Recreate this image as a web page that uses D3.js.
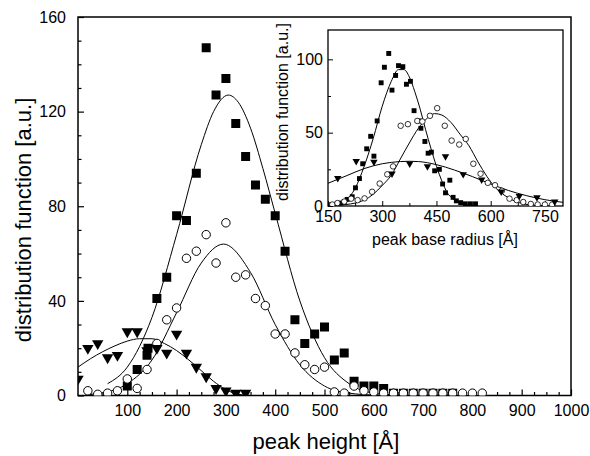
<!DOCTYPE html>
<html>
<head>
<meta charset="utf-8">
<script src="https://cdn.jsdelivr.net/npm/d3@7"></script>
<style>
  html, body { margin: 0; padding: 0; background: #fff; }
  svg { display: block; font-family: "Liberation Sans", Arial, Helvetica, sans-serif; }
</style>
</head>
<body>
<svg id="chart" width="590" height="456"></svg>
<script>
// ---- Main panel: distribution of peak heights ----
const heightSq = [100,120,140,142,160,180,200,220,240,260,280,300,320,340,360,380,400,420,440,460,480,500,520,540,560,580,600,620,640,660,680,700,720,740,760];
const distSq   = [4,11,17,20,41,50,76,74,94,147,127,134,115,101,89,83,76,61,32,22,26,29,15,18,6,4,4,3,1,1,1,1,1,1,1];

const heightCi = [20,40,60,80,100,120,140,160,180,200,220,240,260,280,300,320,340,360,380,400,420,440,460,480,500,520,540,560,580,600,620,640,660,680,700,720,740,760,780,800,820];
const distCi   = [2,0.5,1,2,7,3,11,22,32,37,58,61,68,56,73,50,51,41,38,26,26,18,13,11,12,1.5,1,4,2,1.5,1,1,1,1,1,1,1,1,1,1,1];

const heightTr = [0,20,40,60,80,100,120,140,160,180,200,220,240,260,280,300,320,340];
const distTr   = [7,20,22,16,17,27,27,19,20,18,26,18,12,8,3,2,1,1];

// fitted curves
const fitSqX = [60,100,150,200,250,275,305,325,350,375,400,450,500,550,600,650];
const fitSqY = [5,12,33,68,106,120,127,124,113,96,77,40,16,5,1,0.2];
const fitCiX = [20,50,100,150,200,250,295,350,400,450,500,550,600,650,700];
const fitCiY = [0.4,1.1,5,15,35,56,64,52,30,13,4,1,0.2,0,0];
const fitTrX = [0,25,50,75,100,125,150,175,200,225,250,275,300,325,350];
const fitTrY = [12,15.5,18.5,21,23,24,24,22,19,15,10.5,6,2.5,0.5,0];

const mainXTicks = [100,200,300,400,500,600,700,800,900,1000];
const mainYTicks = [0,40,80,120,160];

// ---- Inset: distribution of peak base radii ----
const radiusSq = [157,163,174,185,195,203,217,226,237,246,257,268,277,286,297,306,318,327,337,345,357,367,378,388,402,407,418,427,436,445,458,467,475,487,496,505,517,530,544,558];
const idistSq  = [0.8,1,1,2,3,4.5,6.3,12.4,18.7,28.8,39,47.5,34,58,84,94.6,104,79,89,95.7,95,83,85,65,58,53,44,36,36.7,24,25,15,9,17.6,5.9,3.5,2.3,1.5,1.5,1.5];

const radiusCi = [162,176,195,214,232,251,272,293,314,330,351,371,397,411,432,452,473,492,513,531,552,572,592,612,631,652,672,690,711,730,750,770];
const idistCi  = [1,2,3,5,4,5.2,9.7,15.3,21.6,27,54.7,55.8,58,57.6,61.5,66.7,54.7,44.6,41.9,45.7,28.8,22,15.8,14.2,10.4,5,4,2.7,1.4,1,1,1];

const radiusTr = [177,228,277,327,376,425,475,524,575,629,679,728,777];
const idistTr  = [19,30.6,30,22,28.8,27,33.8,21.6,18,9.7,6.8,5.9,2.9];

const ifitSqX = [150,175,200,225,250,275,300,325,345,360,375,390,405,420,435,450,465,480,495,510,530,560];
const ifitSqY = [0,1,4,12,27,46,68,85,93,93,88,78,66,52,39,27,17,9,5,2.5,1,0];
const ifitCiX = [175,200,225,250,275,300,325,350,375,400,425,445,465,490,515,540,565,590,615,640,665,690,720,780];
const ifitCiY = [0.5,1,2,4,8,14,21,32,43,53,60,63,62,57,49,41,30,20,12,7,3.5,1.5,0.5,0];
const ifitTrX = [150,200,250,300,350,375,400,450,500,550,600,650,700,750,800];
const ifitTrY = [15.5,20.5,25.5,28.8,30.3,30.5,30.3,28.2,24.5,20,15,10.5,7,4.3,2.5];

const insetXTicks = [150,300,450,600,750];
const insetYTicks = [0,50,100];

const zip = (xs, ys) => xs.map((x, i) => [x, ys[i]]);

const svg = d3.select("#chart");

function drawPanel(g, opt) {
  const { x, y, left, right, top, bottom } = opt;
  const clipId = opt.id + "-clip";
  g.append("clipPath").attr("id", clipId)
    .append("rect").attr("x", left).attr("y", top)
    .attr("width", right - left).attr("height", bottom - top);

  if (opt.fill) {
    g.append("rect").attr("x", left).attr("y", top)
      .attr("width", right - left).attr("height", bottom - top)
      .attr("fill", "#fff");
  }

  // minor ticks
  g.append("g").attr("transform", `translate(0,${bottom})`)
    .call(d3.axisBottom(x).tickValues(opt.xMinor).tickSize(-opt.minorLen).tickFormat(""))
    .call(a => a.select(".domain").remove());
  g.append("g").attr("transform", `translate(${left},0)`)
    .call(d3.axisLeft(y).tickValues(opt.yMinor).tickSize(-opt.minorLen).tickFormat(""))
    .call(a => a.select(".domain").remove());

  // major ticks with labels
  const xa = g.append("g").attr("transform", `translate(0,${bottom})`)
    .call(d3.axisBottom(x).tickValues(opt.xTicks).tickSize(-opt.majorLen).tickPadding(opt.xPad).tickFormat(d3.format("d")));
  xa.select(".domain").remove();
  xa.selectAll("text").attr("font-size", opt.tickFont).attr("fill", "#000");
  const ya = g.append("g").attr("transform", `translate(${left},0)`)
    .call(d3.axisLeft(y).tickValues(opt.yTicks).tickSize(-opt.majorLen).tickPadding(opt.yPad).tickFormat(d3.format("d")));
  ya.select(".domain").remove();
  ya.selectAll("text").attr("font-size", opt.tickFont).attr("fill", "#000");
  g.selectAll(".tick line").attr("stroke", "#000").attr("stroke-width", opt.tickWidth);

  // frame
  g.append("rect").attr("x", left).attr("y", top)
    .attr("width", right - left).attr("height", bottom - top)
    .attr("fill", "none").attr("stroke", "#000").attr("stroke-width", opt.frameWidth);

  const plot = g.append("g").attr("clip-path", `url(#${clipId})`);

  // fitted curves
  const line = d3.line().x(d => x(d[0])).y(d => y(d[1])).curve(d3.curveMonotoneX);
  opt.fits.forEach(f => {
    plot.append("path").datum(f).attr("d", line)
      .attr("fill", "none").attr("stroke", "#000").attr("stroke-width", opt.lineWidth);
  });

  // data points
  const sym = (type, size) => d3.symbol().type(type).size(size)();
  const s = opt.sym;
  plot.selectAll(null).data(opt.squares).join("path")
    .attr("d", sym(d3.symbolSquare, s.square))
    .attr("transform", d => `translate(${x(d[0])},${y(d[1])})`)
    .attr("fill", "#000");
  plot.selectAll(null).data(opt.circles).join("path")
    .attr("d", sym(d3.symbolCircle, s.circle))
    .attr("transform", d => `translate(${x(d[0])},${y(d[1])})`)
    .attr("fill", "#fff").attr("stroke", "#000").attr("stroke-width", s.circleStroke);
  plot.selectAll(null).data(opt.triangles).join("path")
    .attr("d", sym(d3.symbolTriangle, s.triangle))
    .attr("transform", d => `translate(${x(d[0])},${y(d[1])}) rotate(180)`)
    .attr("fill", "#000");

  // axis titles
  g.append("text")
    .attr("x", opt.xTitleX).attr("y", opt.xTitleY)
    .attr("text-anchor", "middle").attr("font-size", opt.titleFont)
    .text(opt.xTitle);
  g.append("text")
    .attr("transform", `translate(${opt.yTitleX},${opt.yTitleY}) rotate(-90)`)
    .attr("text-anchor", "middle").attr("font-size", opt.titleFont)
    .text(opt.yTitle);
}

const range = (a, b, step) => d3.range(a, b + step / 2, step);

// main panel
const M = { left: 78, right: 571, top: 17, bottom: 395.5 };
const xMain = d3.scaleLinear().domain([0, 1000]).range([M.left, M.right]);
const yMain = d3.scaleLinear().domain([0, 160]).range([M.bottom, M.top]);
drawPanel(svg.append("g"), {
  id: "main", x: xMain, y: yMain, ...M,
  xTicks: mainXTicks, yTicks: mainYTicks,
  xMinor: range(25, 975, 25).filter(v => v % 100 !== 0),
  yMinor: range(10, 150, 10).filter(v => v % 40 !== 0),
  majorLen: 6, minorLen: 3.5, tickWidth: 1.2, frameWidth: 1.5,
  tickFont: 16, xPad: 9, yPad: 12, titleFont: 22,
  xTitle: "peak height [Å]", xTitleX: 326, xTitleY: 449,
  yTitle: "distribution function [a.u.]", yTitleX: 31, yTitleY: 220,
  lineWidth: 1,
  fits: [zip(fitSqX, fitSqY), zip(fitCiX, fitCiY), zip(fitTrX, fitTrY)],
  squares: zip(heightSq, distSq), circles: zip(heightCi, distCi), triangles: zip(heightTr, distTr),
  sym: { square: 81, circle: 56, triangle: 56, circleStroke: 1 }
});

// inset panel
const I = { left: 328, right: 563, top: 30, bottom: 206 };
const xIn = d3.scaleLinear().domain([150, 800]).range([I.left, I.right]);
const yIn = d3.scaleLinear().domain([0, 120]).range([I.bottom, I.top]);
drawPanel(svg.append("g"), {
  id: "inset", x: xIn, y: yIn, ...I, fill: true,
  xTicks: insetXTicks, yTicks: insetYTicks,
  xMinor: [225, 375, 525, 675],
  yMinor: [25, 75],
  majorLen: 5, minorLen: 3, tickWidth: 1, frameWidth: 1.3,
  tickFont: 16, xPad: 5, yPad: 5, titleFont: 16,
  xTitle: "peak base radius [Å]", xTitleX: 445, xTitleY: 245,
  yTitle: "distribution function [a.u.]", yTitleX: 288, yTitleY: 112,
  lineWidth: 1,
  fits: [zip(ifitSqX, ifitSqY), zip(ifitCiX, ifitCiY), zip(ifitTrX, ifitTrY)],
  squares: zip(radiusSq, idistSq), circles: zip(radiusCi, idistCi), triangles: zip(radiusTr, idistTr),
  sym: { square: 24, circle: 24, triangle: 24, circleStroke: 0.8 }
});
</script>
</body>
</html>
